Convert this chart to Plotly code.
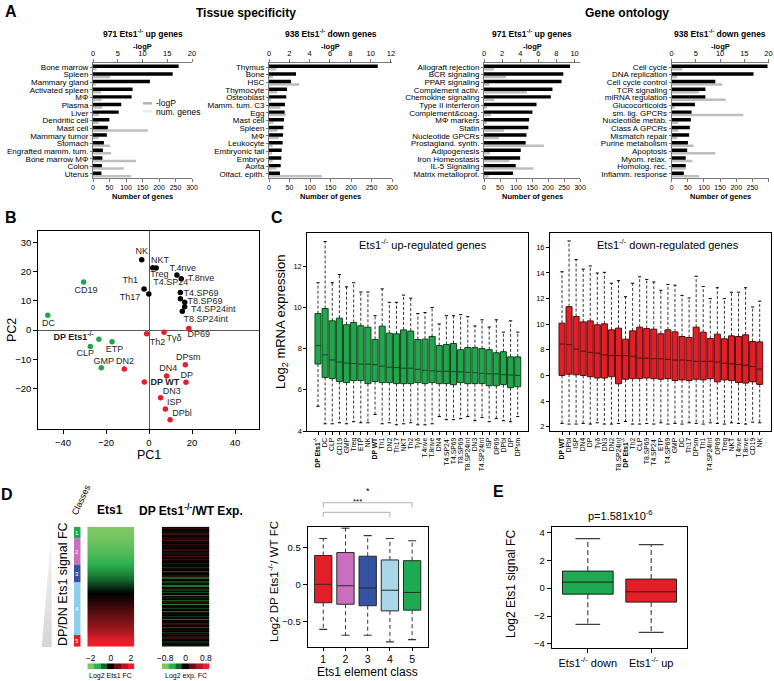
import plotly.graph_objects as go

W, H = 774, 681
FONT = "Liberation Sans, Arial, Helvetica, sans-serif"

# ---------------- Panel A : enrichment bars ----------------
tis_up_cats = ["Bone marrow", "Spleen", "Mammary gland", "Activated spleen", "MΦ", "Plasma", "Liver",
               "Dendritic cell", "Mast cell", "Mammary tumor", "Stomach", "Engrafted mamm. tum.",
               "Bone marrow MΦ", "Colon", "Uterus"]
tis_up_logp = [17.3, 16.1, 11.5, 8.0, 7.8, 5.7, 5.2, 3.3, 3.0, 2.8, 2.2, 2.0, 1.9, 1.8, 1.7]
tis_up_genes = [11, 52, 8, 24, 26, 28, 18, 17, 166, 17, 52, 55, 130, 93, 115]

tis_dn_cats = ["Thymus", "Bone", "HSC", "Thymocyte", "Osteoblast", "Mamm. tum. C3", "Egg", "Mast cell",
               "Spleen", "MΦ", "Leukocyte", "Embryonic tail", "Embryo", "Aorta", "Olfact. epith."]
tis_dn_logp = [10.7, 2.66, 2.16, 1.77, 1.7, 1.57, 1.54, 1.48, 1.41, 1.38, 1.34, 1.25, 1.21, 1.15, 1.08]
tis_dn_genes = [18, 10, 74, 20, 3, 28, 41, 11, 21, 24, 9, 7, 9, 18, 129]

go_up_cats = ["Allograft rejection", "BCR signaling", "PPAR signaling", "Complement activ.",
              "Chemokine signaling", "Type II interferon", "Complement&coag.", "MΦ markers", "Statin",
              "Nucleotide GPCRs", "Prostagland. synth.", "Adipogenesis", "Iron Homeostasis",
              "IL-5 Signaling", "Matrix metalloprot."]
go_up_logp = [9.5, 8.75, 8.56, 7.56, 7.38, 5.8, 5.35, 4.98, 4.9, 4.69, 4.6, 4.06, 3.99, 3.5, 3.2]
go_up_genes = [31, 69, 17, 134, 32, 10, 22, 9, 62, 47, 187, 19, 80, 155, 15]

go_dn_cats = ["Cell cycle", "DNA replication", "Cell cycle control", "TCR signaling", "miRNA regulation",
              "Glucocorticoids", "sm. lig. GPCRs", "Nucleotide metab.", "Class A GPCRs", "Mismatch repair",
              "Purine metabolism", "Apoptosis", "Myom. relax.", "Homolog. rec.", "Inflamm. response"]
go_dn_logp = [19.8, 16.9, 9.0, 6.96, 6.96, 4.8, 4.1, 3.96, 3.75, 3.6, 3.35, 3.2, 2.9, 2.9, 2.5]
go_dn_genes = [33, 17, 157, 85, 167, 10, 222, 21, 21, 17, 68, 135, 64, 44, 85]

genes_ticks = [0, 50, 100, 150, 200, 250, 300]

# ---------------- Panel B : PCA ----------------
pca_names = ["NK", "NKT", "Treg", "T.4nve", "T.8nve", "Th1", "Th17", "T4.SP24-", "T4.SP69", "T8.SP69",
             "T4.SP24int", "T8.SP24int", "CD19", "DC", "DP Ets1-/-", "ETP", "CLP", "GMP", "DN2", "Th2",
             "Tγδ", "DP69", "DPsm", "DN4", "DP", "DP WT", "DN3", "ISP", "DPbl"]
pca_pc1 = [-3.4, 1.7, 3.3, 13.0, 15.0, -2.3, -0.1, 14.6, 14.6, 16.6, 16.6, 15.5, -30.4, -47.1, -23.3,
           -17.2, -27.3, -22.2, -11.5, -1.1, 7.0, 18.5, 16.9, 8.2, 17.2, -2.2, 5.4, 7.6, 9.8]
pca_pc2 = [24.1, 21.4, 21.3, 18.9, 17.6, 14.1, 12.4, 12.9, 10.8, 9.6, 8.0, 6.5, 16.5, 5.1, -3.1,
           -4.0, -5.6, -12.9, -13.3, -1.2, -0.7, 0.6, -11.9, -15.7, -17.9, -17.8, -23.2, -27.0, -30.7]
pca_group = ["T"] * 12 + ["G"] * 6 + ["R"] * 11
# label placement (layout, data units)
pca_lab_x = [-3.4, 5.1, 4.8, 15.7, 24.2, -8.7, -8.8, 10.6, 24.2, 26.0, 29.9, 26.4, -29.3, -46.7, -35.2,
             -16.0, -29.6, -21.1, -11.2, 3.9, 11.6, 23.1, 18.3, 9.0, 17.5, 7.4, 10.6, 11.8, 15.3]
pca_lab_y = [26.9, 23.8, 18.9, 20.9, 17.6, 17.1, 11.1, 16.2, 12.6, 9.7, 7.1, 3.7, 13.4, 2.2, -2.7,
             -6.7, -8.2, -10.7, -10.7, -4.2, -3.1, -1.7, -9.5, -13.4, -15.8, -18.0, -21.0, -24.8, -28.8]

# ---------------- Panel C : boxplots ----------------
c_up_labels = ["DP Ets1-/-", "DC", "CLP", "CD19", "GMP", "Treg", "ETP", "NK", "DP WT", "Th1", "DN2", "Th17",
               "NKT", "Th2", "Tγδ", "T.4nve", "T.8nve", "DN4", "T4.SP24-", "T4.SP69", "T8.SP69",
               "T8.SP24int", "DN3", "T4.SP24int", "ISP", "DP69", "DPbl", "DP", "DPsm"]
c_up_hi = [11.2, 13.2, 11.2, 11.6, 11.0, 11.2, 10.75, 10.75, 9.6, 10.9, 10.25, 10.25, 10.6, 10.45, 9.7,
           9.75, 10.0, 9.2, 9.6, 9.6, 9.65, 9.55, 9.1, 9.4, 9.05, 9.4, 8.8, 9.35, 8.8]
c_up_q3 = [9.7, 9.95, 9.35, 9.48, 9.16, 9.27, 9.11, 9.04, 8.45, 9.09, 8.75, 8.72, 8.91, 8.85, 8.44, 8.46,
           8.59, 8.15, 8.2, 8.25, 7.95, 8.05, 8.05, 8.0, 7.95, 7.8, 7.85, 7.6, 7.6]
c_up_med = [8.15, 7.7, 7.45, 7.35, 7.3, 7.28, 7.25, 7.25, 7.22, 7.15, 7.1, 7.08, 7.05, 7.05, 7.0, 6.95,
            6.92, 6.9, 6.9, 6.88, 6.87, 6.85, 6.83, 6.8, 6.78, 6.77, 6.73, 6.72, 6.7]
c_up_q1 = [7.25, 6.6, 6.55, 6.4, 6.35, 6.45, 6.45, 6.3, 6.4, 6.35, 6.35, 6.3, 6.3, 6.3, 6.35, 6.3, 6.35,
           6.3, 6.3, 6.25, 6.35, 6.3, 6.3, 6.3, 6.2, 6.2, 6.25, 6.1, 6.15]
c_up_lo = [5.2, 4.35, 4.35, 4.4, 4.35, 4.45, 4.4, 4.4, 4.8, 4.35, 4.4, 4.3, 4.35, 4.4, 4.3, 4.3, 4.35,
           4.7, 4.55, 4.55, 4.6, 4.7, 4.5, 4.65, 4.45, 4.6, 4.5, 4.45, 4.7]

c_dn_labels = ["DP WT", "DPbl", "ISP", "DN4", "DP", "Tγδ", "DN3", "DN2", "T8.SP24int", "DP Ets1-/-", "Th2",
               "CLP", "T8.SP69", "T4.SP24-", "ETP", "T4.SP69", "GMP", "DC", "Th17", "DPsm", "Th1",
               "T4.SP24int", "DP69", "Treg", "NKT", "T.4nve", "T.8nve", "CD19", "NK"]
c_dn_hi = [14.1, 16.5, 15.05, 14.3, 14.55, 14.0, 14.05, 13.2, 13.4, 12.15, 13.2, 13.7, 13.5, 13.3, 12.65,
           13.1, 13.05, 12.25, 12.05, 13.75, 12.95, 12.0, 12.85, 12.0, 12.5, 12.5, 12.85, 11.35, 11.8]
c_dn_q3 = [10.08, 11.37, 10.6, 10.18, 10.26, 9.95, 10.03, 9.56, 9.69, 8.83, 9.48, 9.77, 9.66, 9.61, 9.25,
           9.56, 9.4, 9.04, 8.96, 9.77, 9.38, 8.88, 9.22, 8.86, 9.09, 9.04, 9.17, 8.65, 8.62]
c_dn_med = [8.45, 8.4, 8.05, 7.9, 7.8, 7.75, 7.6, 7.55, 7.55, 7.55, 7.5, 7.35, 7.35, 7.3, 7.3, 7.25, 7.2,
            7.2, 7.15, 7.1, 7.1, 7.1, 7.05, 6.95, 6.9, 6.85, 6.8, 6.7, 6.5]
c_dn_q1 = [6.0, 6.1, 6.05, 6.0, 5.9, 5.8, 5.8, 5.9, 5.35, 5.7, 5.75, 5.75, 5.8, 5.75, 5.7, 5.75, 5.6, 5.65,
           5.6, 5.7, 5.65, 5.75, 5.5, 5.65, 5.6, 5.45, 5.4, 5.5, 5.3]
c_dn_lo = [2.25, 2.2, 2.2, 2.25, 2.2, 2.3, 2.2, 2.2, 2.25, 2.4, 2.2, 2.2, 2.25, 2.2, 2.3, 2.2, 2.25, 2.2,
           2.3, 2.25, 2.2, 2.3, 2.25, 2.2, 2.3, 2.25, 2.2, 2.35, 2.3]

# ---------------- Panel D ----------------
ets1_fc = [-2.0, -1.95, -1.9, -1.8, -1.7, -1.6, -1.45, -1.3, -1.1, -0.9, -0.65, -0.4, -0.15, 0.05, 0.2,
           0.35, 0.5, 0.65, 0.8, 1.0, 1.2, 1.5, 1.9, 2.0]
exp_fc = [0.03, 0.15, 0.0, 0.08, -0.03, 0.18, 0.03, 0.0, 0.1, -0.06,
          0.2, 0.03, 0.0, 0.14, -0.03, 0.07, 0.0, 0.17, 0.03, -0.06,
          0.1, 0.0, 0.2, 0.03, -0.1, 0.07, 0.0, 0.14, -0.03, 0.03,
          -0.14, 0.07, 0.0, -0.2, 0.1, 0.0, -0.07, 0.13, -0.25, 0.03,
          0.0, -0.17, 0.07, -0.03, -0.3, 0.0, 0.1, -0.14, 0.03, -0.2,
          0.0, -0.32, 0.07, -0.07, 0.0, -0.22, 0.14, -0.03, -0.36, 0.0,
          0.07, -0.17, 0.0, -0.25, 0.1, -0.03, 0.0, -0.14, 0.07, -0.28,
          0.0, 0.03, -0.1, 0.14, 0.0, -0.2, -0.03, 0.07, 0.0, -0.14,
          0.1, 0.0, -0.07, 0.17, -0.03, 0.0, -0.1, 0.07, 0.0, -0.07]
ets1_cbar = [-2, -1.33, -0.67, 0, 0.67, 1.33, 2]
exp_cbar = [-0.8, -0.53, -0.27, 0, 0.27, 0.53, 0.8]
class_labels = ["1", "2", "3", "4", "5"]
class_share = [9.7, 22.2, 14.7, 43.6, 9.8]
d_hi = [0.62, 0.76, 0.66, 0.62, 0.59]
d_q3 = [0.39, 0.43, 0.38, 0.33, 0.32]
d_med = [0.0, -0.02, -0.05, -0.08, -0.11]
d_q1 = [-0.25, -0.27, -0.29, -0.36, -0.35]
d_lo = [-0.61, -0.69, -0.69, -0.78, -0.75]

# ---------------- Panel E ----------------
e_labels = ["Ets1<sup>-/-</sup> down", "Ets1<sup>-/-</sup> up"]
e_hi = [3.55, 3.12]
e_q3 = [1.22, 0.65]
e_med = [0.43, -0.26]
e_q1 = [-0.43, -1.0]
e_lo = [-2.59, -3.17]

GREEN = "rgb(35,165,75)"
RED = "rgb(228,30,38)"
GREY_BAR = "rgb(190,190,190)"
AX_GREY = "rgb(120,120,120)"

fig = go.Figure()
layout = {}
annotations = []
shapes = []


def fx(x):
    return x / W


def fy(y):
    return 1 - y / H


def key(prefix, n):
    return prefix + ("" if n == 1 else str(n))


def ann(x, y, text, size=9, bold=False, angle=0, xanchor="center", color="black"):
    if bold:
        text = "<b>" + text + "</b>"
    annotations.append(dict(x=fx(x), y=fy(y), xref="paper", yref="paper", text=text, showarrow=False,
                            font=dict(size=size, family=FONT, color=color), textangle=angle,
                            xanchor=xanchor, yanchor="middle"))


def axis(dom, **kw):
    d = dict(domain=dom, showgrid=False, zeroline=False, showline=True, linecolor="black", linewidth=1,
             ticks="outside", ticklen=3, tickwidth=1, tickcolor="black", automargin=False,
             tickfont=dict(size=8, family=FONT, color="black"), fixedrange=True)
    d.update(kw)
    return d


def disp(name):
    if name == "DP Ets1-/-":
        return "<b>DP Ets1<sup>-/-</sup></b>"
    if name == "DP WT":
        return "<b>DP WT</b>"
    if name == "T4.SP24-":
        return "T4.SP24<sup>-</sup>"
    return name


def whiskers(pos, lo, q1, q3, hi, xa, ya, cap, width=0.8, color="black", dash="3px,2px"):
    sx, sy, cx, cy = [], [], [], []
    for p, l, a, b, h in zip(pos, lo, q1, q3, hi):
        sx += [p, p, None, p, p, None]
        sy += [b, h, None, a, l, None]
        cx += [p - cap / 2, p + cap / 2, None, p - cap / 2, p + cap / 2, None]
        cy += [h, h, None, l, l, None]
    fig.add_trace(go.Scatter(x=sx, y=sy, mode="lines", xaxis=xa, yaxis=ya, hoverinfo="skip",
                             line=dict(color=color, width=width, dash=dash), showlegend=False))
    fig.add_trace(go.Scatter(x=cx, y=cy, mode="lines", xaxis=xa, yaxis=ya, hoverinfo="skip",
                             line=dict(color=color, width=width + 0.2), showlegend=False))


# ======================= Panel A =======================
a_specs = [
    (tis_up_cats, tis_up_logp, tis_up_genes, 93, 192, [0, 20], [0, 5, 10, 15, 20],
     "971 Ets1<sup>-/-</sup> up genes"),
    (tis_dn_cats, tis_dn_logp, tis_dn_genes, 269, 392, [0, 12.1], [0, 2, 4, 6, 8, 10, 12],
     "938 Ets1<sup>-/-</sup> down genes"),
    (go_up_cats, go_up_logp, go_up_genes, 484, 580, [0, 10.6], [0, 2, 4, 6, 8, 10],
     "971 Ets1<sup>-/-</sup> up genes"),
    (go_dn_cats, go_dn_logp, go_dn_genes, 671.7, 768.5, [0, 20], [0, 5, 10, 15, 20],
     "938 Ets1<sup>-/-</sup> down genes"),
]
A_TOP, A_BOT = 63.2, 177.8
for i, (cats, logp, genes, xl, xr, trange, tticks, title) in enumerate(a_specs):
    nb, nt, ny = 2 * i + 1, 2 * i + 2, i + 1
    idx = list(range(len(cats)))
    fig.add_trace(go.Bar(x=genes, y=idx, orientation="h", xaxis=key("x", nb), yaxis=key("y", ny),
                         marker=dict(color=GREY_BAR, line=dict(width=0)), width=0.33, offset=0.13,
                         hoverinfo="skip", showlegend=False))
    fig.add_trace(go.Bar(x=logp, y=idx, orientation="h", xaxis=key("x", nt), yaxis=key("y", ny),
                         marker=dict(color="black", line=dict(width=0)), width=0.45, offset=-0.32,
                         hoverinfo="skip", showlegend=False))
    layout[key("xaxis", nb)] = axis([fx(xl), fx(xr)], anchor=key("y", ny), range=[0, 300],
                                    tickvals=genes_ticks, linecolor=AX_GREY, tickcolor=AX_GREY,
                                    tickfont=dict(size=7, family=FONT))
    layout[key("xaxis", nt)] = axis([fx(xl), fx(xr)], anchor=key("y", ny), overlaying=key("x", nb),
                                    side="top", range=trange, tickvals=tticks, linecolor=AX_GREY,
                                    tickcolor=AX_GREY, tickfont=dict(size=7.5, family=FONT))
    layout[key("yaxis", ny)] = axis([fy(A_BOT), fy(A_TOP)], anchor=key("x", nb), range=[14.5, -0.5],
                                    tickvals=idx, ticktext=cats, ticklen=2, linecolor=AX_GREY,
                                    tickcolor=AX_GREY, tickfont=dict(size=8, family=FONT))
    cx = (xl + xr) / 2
    ann(cx, 33, title, size=8.5, bold=True)
    ann(cx, 47, "-logP", size=7.5, bold=True)
    ann(cx, 196, "Number of genes", size=7.5, bold=True)

ann(11, 11, "A", size=16, bold=True)
ann(246, 13, "Tissue specificity", size=12, bold=True)
ann(627, 13, "Gene ontology", size=12, bold=True)
# legend of panel A
shapes.append(dict(type="line", xref="paper", yref="paper", x0=fx(143), x1=fx(152), y0=fy(103.3),
                   y1=fy(103.3), line=dict(color="black", width=2.5)))
shapes.append(dict(type="line", xref="paper", yref="paper", x0=fx(143), x1=fx(152), y0=fy(111.3),
                   y1=fy(111.3), line=dict(color=GREY_BAR, width=2.5)))
ann(154, 103, "-logP", size=8.5, xanchor="left")
ann(154, 111.5, "num. genes", size=8.5, xanchor="left")

# ======================= Panel B =======================
col_map = {"T": "black", "G": GREEN, "R": RED}
for g in ["T", "G", "R"]:
    xs = [x for x, gg in zip(pca_pc1, pca_group) if gg == g]
    ys = [y for y, gg in zip(pca_pc2, pca_group) if gg == g]
    fig.add_trace(go.Scatter(x=xs, y=ys, mode="markers", xaxis="x9", yaxis="y5", hoverinfo="skip",
                             marker=dict(color=col_map[g], size=5.5, line=dict(width=0)), showlegend=False))
fig.add_trace(go.Scatter(x=pca_lab_x, y=pca_lab_y, text=[disp(n) for n in pca_names], mode="text",
                         xaxis="x9", yaxis="y5", hoverinfo="skip", textfont=dict(size=9, family=FONT,
                                                                                color="rgb(30,30,30)"),
                         showlegend=False))
layout["xaxis9"] = axis([fx(38.3), fx(259.3)], anchor="y5", range=[-51.5, 51.3],
                        tickvals=[-40, -20, 0, 20, 40], mirror=True, zeroline=True,
                        zerolinecolor="rgb(90,90,90)", zerolinewidth=1.2, ticklen=4,
                        tickfont=dict(size=9.5, family=FONT))
layout["yaxis5"] = axis([fy(429.3), fy(231)], anchor="x9", range=[-34, 34],
                        tickvals=[-20, -10, 0, 10, 20, 30], mirror=True, zeroline=True,
                        zerolinecolor="rgb(90,90,90)", zerolinewidth=1.2, ticklen=4,
                        tickfont=dict(size=9.5, family=FONT))
ann(11, 217, "B", size=16, bold=True)
ann(12, 330, "PC2", size=12.5, angle=-90)
ann(149, 455, "PC1", size=12.5)

# ======================= Panel C =======================
c_specs = [
    ("x10", "y6", c_up_labels, c_up_lo, c_up_q1, c_up_med, c_up_q3, c_up_hi, GREEN, "rgb(20,70,35)"),
    ("x11", "y7", c_dn_labels, c_dn_lo, c_dn_q1, c_dn_med, c_dn_q3, c_dn_hi, RED, "rgb(80,15,15)"),
]
for xa, ya, labs, lo, q1, med, q3, hi, fillc, linec in c_specs:
    pos = list(range(len(labs)))
    whiskers(pos, lo, q1, q3, hi, xa, ya, cap=0.45, width=0.8)
    fig.add_trace(go.Box(x=pos, q1=q1, median=med, q3=q3, lowerfence=q1, upperfence=q3, xaxis=xa,
                         yaxis=ya, fillcolor=fillc, line=dict(color=linec, width=1), width=0.85,
                         whiskerwidth=0, boxpoints=False, hoverinfo="skip", showlegend=False))
layout["xaxis10"] = axis([fx(307.3), fx(527.7)], anchor="y6", range=[-1.5, 29.4],
                         tickvals=list(range(len(c_up_labels))), ticktext=[disp(n) for n in c_up_labels],
                         tickangle=-90, mirror=True, tickfont=dict(size=6.8, family=FONT))
layout["yaxis6"] = axis([fy(431), fy(233.3)], anchor="x10", range=[4, 13.6], tickvals=[4, 6, 8, 10, 12],
                        mirror=True, tickfont=dict(size=7.5, family=FONT))
layout["xaxis11"] = axis([fx(550), fx(771)], anchor="y7", range=[-1.7, 29.6],
                         tickvals=list(range(len(c_dn_labels))), ticktext=[disp(n) for n in c_dn_labels],
                         tickangle=-90, mirror=True, tickfont=dict(size=6.8, family=FONT))
layout["yaxis7"] = axis([fy(431), fy(233.3)], anchor="x11", range=[1.66, 17.1],
                        tickvals=[2, 4, 6, 8, 10, 12, 14, 16], mirror=True, tickfont=dict(size=7.5, family=FONT))
ann(423, 244, "Ets1<sup>-/-</sup> up-regulated genes", size=11)
ann(668, 244, "Ets1<sup>-/-</sup> down-regulated genes", size=11)
ann(281, 322, "Log<sub>2</sub> mRNA expression", size=13, angle=-90)
ann(277, 217, "C", size=16, bold=True)

# ======================= Panel D =======================
scale_cols = [[0, "rgb(125,200,100)"], [0.17, "rgb(45,175,80)"], [0.33, "rgb(20,105,45)"],
              [0.5, "rgb(0,0,0)"], [0.67, "rgb(105,15,20)"], [0.83, "rgb(175,25,35)"],
              [1, "rgb(240,30,40)"]]
fig.add_trace(go.Heatmap(z=[[v, v] for v in ets1_fc], x=[0, 1], y=list(range(len(ets1_fc))),
                         colorscale=scale_cols, zmin=-2, zmax=2, zsmooth="best", showscale=False,
                         xaxis="x12", yaxis="y8", hoverinfo="skip"))
fig.add_trace(go.Heatmap(z=[[v, v] for v in exp_fc], x=[0, 1], y=list(range(len(exp_fc))),
                         colorscale=scale_cols, zmin=-0.8, zmax=0.8, showscale=False,
                         xaxis="x13", yaxis="y9", hoverinfo="skip"))
fig.add_trace(go.Heatmap(z=[ets1_cbar], x=ets1_cbar, y=[0], colorscale=scale_cols, zmin=-2, zmax=2,
                         showscale=False, xaxis="x14", yaxis="y10", hoverinfo="skip"))
fig.add_trace(go.Heatmap(z=[exp_cbar], x=exp_cbar, y=[0], colorscale=scale_cols, zmin=-0.8, zmax=0.8,
                         showscale=False, xaxis="x15", yaxis="y11", hoverinfo="skip"))
HT, HB = 526.7, 646.7
layout["xaxis12"] = axis([fx(87.3), fx(134.3)], anchor="y8", range=[-0.5, 1.5], visible=False)
layout["yaxis8"] = axis([fy(HB), fy(HT)], anchor="x12", range=[len(ets1_fc) - 0.5, -0.5], visible=False)
layout["xaxis13"] = axis([fx(161.7), fx(209.3)], anchor="y9", range=[-0.5, 1.5], visible=False)
layout["yaxis9"] = axis([fy(HB), fy(HT)], anchor="x13", range=[len(exp_fc) - 0.5, -0.5], visible=False)
layout["xaxis14"] = axis([fx(87.3), fx(134.3)], anchor="y10", side="top", range=[-2.333, 2.333],
                         tickvals=[-2, 0, 2], ticks="", showline=False, tickfont=dict(size=8.5, family=FONT))
layout["yaxis10"] = axis([fy(669.3), fy(663.3)], anchor="x14", visible=False)
layout["xaxis15"] = axis([fx(161.7), fx(209.3)], anchor="y11", side="top", range=[-0.933, 0.933],
                         tickvals=[-0.8, 0, 0.8], ticks="", showline=False, tickfont=dict(size=8.5, family=FONT))
layout["yaxis11"] = axis([fy(669.3), fy(663.3)], anchor="x15", visible=False)

# classes bar
class_cols = [GREEN, "rgb(200,112,190)", "rgb(52,82,160)", "rgb(140,205,235)", RED]
cum = []
s = 0
for v in class_share:
    cum.append(s)
    s += v
fig.add_trace(go.Bar(x=[0] * len(class_share), y=class_share, base=cum, width=1,
                     marker=dict(color=class_cols, line=dict(width=0)), xaxis="x16", yaxis="y12",
                     hoverinfo="skip", showlegend=False))
for lab, c0, v in zip(class_labels, cum, class_share):
    annotations.append(dict(x=0, y=c0 + v / 2, xref="x16", yref="y12", text=lab, showarrow=False,
                            font=dict(size=6, family=FONT, color="white")))
layout["xaxis16"] = axis([fx(74), fx(80.7)], anchor="y12", range=[-0.5, 0.5], visible=False)
layout["yaxis12"] = axis([fy(HB), fy(HT)], anchor="x16", range=[s, 0], visible=False)

# grey wedge
n = 16
top, bot, right, lb = 529.0, 647.0, 51.7, 41.7
for k in range(n):
    y0 = top + (bot - top) * k / n
    y1 = top + (bot - top) * (k + 1) / n
    xl0 = right - (right - lb) * (y0 - top) / (bot - top)
    xl1 = right - (right - lb) * (y1 - top) / (bot - top)
    gv = int(238 - 118 * k / (n - 1))
    shapes.append(dict(type="path", xref="paper", yref="paper",
                       path=f"M {fx(xl0)},{fy(y0)} L {fx(right)},{fy(y0)} L {fx(right)},{fy(y1)} L {fx(xl1)},{fy(y1)} Z",
                       fillcolor=f"rgb({gv},{gv},{gv})", line=dict(width=0)))

ann(7, 494, "D", size=16, bold=True)
ann(63, 584, "DP/DN Ets1 signal FC", size=12.5, angle=-90)
ann(81, 500, "Classes", size=9, angle=-65)
ann(110, 510, "Ets1", size=12, bold=True)
ann(191, 510, "DP Ets1<sup>-/-</sup>/WT Exp.", size=12, bold=True)
ann(110, 676, "Log2 Ets1 FC", size=7)
ann(185.5, 676, "Log2 exp. FC", size=7)

# D boxplot
box_cols = [RED, "rgb(200,112,190)", "rgb(52,82,160)", "rgb(170,215,232)", "rgb(30,170,80)"]
d_pos = [1, 2, 3, 4, 5]
whiskers(d_pos, d_lo, d_q1, d_q3, d_hi, "x17", "y13", cap=0.36, width=1.0, color="rgb(50,50,50)",
         dash="4px,3px")
for i in range(5):
    fig.add_trace(go.Box(x=[d_pos[i]], q1=[d_q1[i]], median=[d_med[i]], q3=[d_q3[i]],
                         lowerfence=[d_q1[i]], upperfence=[d_q3[i]], xaxis="x17", yaxis="y13",
                         fillcolor=box_cols[i], line=dict(color="rgb(40,40,40)", width=1), width=0.78,
                         whiskerwidth=0, boxpoints=False, hoverinfo="skip", showlegend=False))
layout["xaxis17"] = axis([fx(307.7), fx(427.7)], anchor="y13", range=[0.3, 5.7], tickvals=d_pos,
                         mirror=True, ticklen=3, tickfont=dict(size=10.5, family=FONT))
layout["yaxis13"] = axis([fy(646.7), fy(527.3)], anchor="x17", range=[-0.845, 0.772],
                         tickvals=[-0.5, 0, 0.5], mirror=True, ticklen=4, tickfont=dict(size=9.5, family=FONT))
ann(273, 582, "Log2 DP Ets1<sup>-/-</sup>/ WT FC", size=11.5, angle=-90)
ann(367.7, 671.5, "Ets1 element class", size=12)
# significance brackets
for xa_, xb_, yl, ydrop in [(1, 5, 502.7, 507.5), (1, 4, 512.3, 517)]:
    shapes.append(dict(type="line", xref="x17", yref="paper", x0=xa_, x1=xb_, y0=fy(yl), y1=fy(yl),
                       line=dict(color="black", width=1)))
    shapes.append(dict(type="line", xref="x17", yref="paper", x0=xa_, x1=xa_, y0=fy(yl), y1=fy(ydrop),
                       line=dict(color="black", width=1)))
    shapes.append(dict(type="line", xref="x17", yref="paper", x0=xb_, x1=xb_, y0=fy(yl), y1=fy(ydrop),
                       line=dict(color="black", width=1)))
annotations.append(dict(x=3, y=fy(498), xref="x17", yref="paper", text="*", showarrow=False,
                        font=dict(size=9, family=FONT)))
annotations.append(dict(x=2.55, y=fy(508), xref="x17", yref="paper", text="***", showarrow=False,
                        font=dict(size=8, family=FONT)))

# ======================= Panel E =======================
e_pos = [0, 1]
e_cols = ["rgb(30,170,80)", RED]
whiskers(e_pos, e_lo, e_q1, e_q3, e_hi, "x18", "y14", cap=0.39, width=1.1, color="rgb(60,60,60)",
         dash="5px,3px")
for i in range(2):
    fig.add_trace(go.Box(x=[e_pos[i]], q1=[e_q1[i]], median=[e_med[i]], q3=[e_q3[i]],
                         lowerfence=[e_q1[i]], upperfence=[e_q3[i]], xaxis="x18", yaxis="y14",
                         fillcolor=e_cols[i], line=dict(color="rgb(30,30,30)", width=1), width=0.8,
                         whiskerwidth=0, boxpoints=False, hoverinfo="skip", showlegend=False))
layout["xaxis18"] = axis([fx(551.7), fx(687.3)], anchor="y14", range=[-0.57, 1.57], tickvals=e_pos,
                         ticktext=e_labels, mirror=True, ticklen=4, tickfont=dict(size=11, family=FONT))
layout["yaxis14"] = axis([fy(648.3), fy(527.3)], anchor="x18", range=[-4.31, 4.36],
                         tickvals=[-4, -2, 0, 2, 4], mirror=True, ticklen=4, tickfont=dict(size=9.5, family=FONT))
ann(620, 515, "p=1.581x10<sup>-6</sup>", size=11)
ann(511, 584, "Log2 Ets1 signal FC", size=12, angle=-90)
ann(499, 492, "E", size=16, bold=True)

fig.update_layout(**layout)
fig.update_layout(width=W, height=H, margin=dict(l=0, r=0, t=0, b=0), autosize=False,
                  template="simple_white", paper_bgcolor="white", plot_bgcolor="rgba(0,0,0,0)",
                  showlegend=False, barmode="overlay", boxmode="overlay",
                  font=dict(family=FONT, color="black"), annotations=annotations, shapes=shapes)
fig.write_html("out.html", post_script="document.body.style.margin='0px';",
               config={"displayModeBar": False})
